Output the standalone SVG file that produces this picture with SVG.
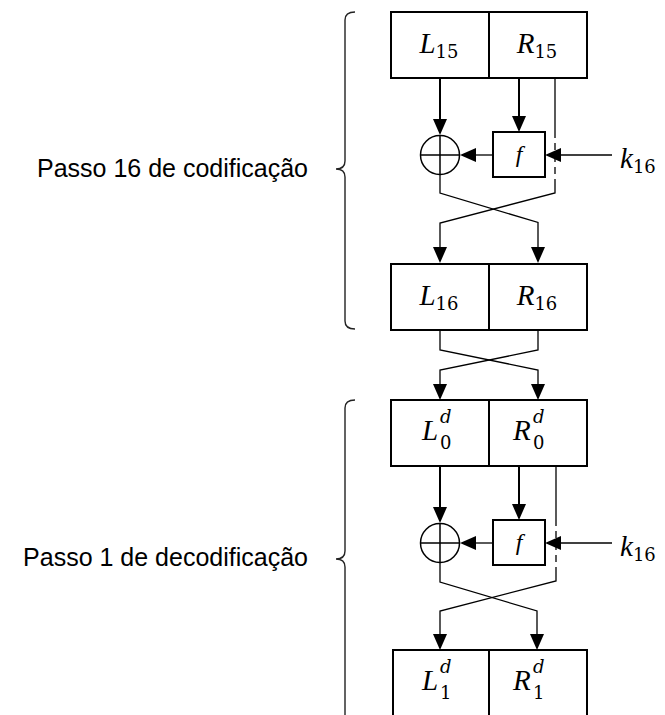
<svg xmlns="http://www.w3.org/2000/svg" width="665" height="715" viewBox="0 0 665 715">
<style>
.box{fill:#fff;stroke:#000;stroke-width:2}
.thick{fill:none;stroke:#000;stroke-width:2}
.thin{fill:none;stroke:#000;stroke-width:1.3}
.brace{fill:none;stroke:#222;stroke-width:1.4}
.lbl{font-family:"Liberation Sans",Arial,sans-serif;font-size:25px;fill:#000}
.m{font-family:"Liberation Serif","Times New Roman",serif;font-size:29px;font-style:italic;fill:#000}
.s{font-family:"DejaVu Serif","Liberation Serif",serif;font-size:18px;font-style:normal}
.si{font-family:"DejaVu Serif","Liberation Serif",serif;font-size:18px;font-style:italic}
.fl{font-family:"Liberation Serif","Times New Roman",serif;font-size:24px;font-style:italic;fill:#000}
</style>
<defs>
<marker id="ah" markerUnits="userSpaceOnUse" markerWidth="16" markerHeight="14" refX="14" refY="7" orient="auto">
<path d="M0,0 L16,7 L0,14 z" fill="#000"/>
</marker>
</defs>

<g id="bracket-enc">
<path class="brace" d="M355,12 Q345,12 345,20 L345,161 Q345,169 336,169 Q345,169 345,177 L345,321 Q345,329 355,329"/>
<text class="lbl" x="308" y="177" text-anchor="end">Passo 16 de codificação</text>
</g>
<g id="bracket-dec">
<path class="brace" d="M355,400 Q345,400 345,408 L345,551 Q345,559 336,559 Q345,559 345,567 L345,720"/>
<text class="lbl" x="308" y="566" text-anchor="end">Passo 1 de decodificação</text>
</g>

<g id="box-L15R15">
<rect class="box" x="391" y="12" width="98" height="66"/>
<rect class="box" x="489" y="12" width="98" height="66"/>
<text class="m" x="439" y="53" text-anchor="middle">L<tspan class="s" dy="5">15</tspan></text>
<text class="m" x="537" y="53" text-anchor="middle">R<tspan class="s" dy="5">15</tspan></text>
</g>
<g id="xor1">
<circle class="thin" cx="440" cy="155" r="19.5" style="stroke-width:1.5"/>
<path class="thin" style="stroke-width:1.5" d="M420.5,155 H459.5 M440,135.5 V174.5"/>
</g>
<g id="f1">
<rect class="box" x="493" y="132" width="52" height="45"/>
<text class="fl" x="519" y="162" text-anchor="middle">f</text>
</g>
<g id="k1">
<text class="m" x="620" y="168">k<tspan class="s" dy="5">16</tspan></text>
</g>
<g id="box-L16R16">
<rect class="box" x="391" y="264" width="98" height="66"/>
<rect class="box" x="489" y="264" width="98" height="66"/>
<text class="m" x="439" y="305" text-anchor="middle">L<tspan class="s" dy="5">16</tspan></text>
<text class="m" x="537" y="305" text-anchor="middle">R<tspan class="s" dy="5">16</tspan></text>
</g>

<g id="box-L0R0">
<rect class="box" x="391" y="400" width="98" height="66"/>
<rect class="box" x="489" y="400" width="98" height="66"/>
<text class="m" x="422" y="440">L</text>
<text class="si" x="440" y="423">d</text>
<text class="s" x="440" y="449">0</text>
<text class="m" x="513" y="440">R</text>
<text class="si" x="533" y="423">d</text>
<text class="s" x="533" y="449">0</text>
</g>
<g id="xor2">
<circle class="thin" cx="440" cy="543" r="19.5" style="stroke-width:1.5"/>
<path class="thin" style="stroke-width:1.5" d="M420.5,543 H459.5 M440,523.5 V562.5"/>
</g>
<g id="f2">
<rect class="box" x="493" y="520" width="52" height="45"/>
<text class="fl" x="519" y="550" text-anchor="middle">f</text>
</g>
<g id="k2">
<text class="m" x="620" y="556">k<tspan class="s" dy="5">16</tspan></text>
</g>
<g id="box-L1R1">
<rect class="box" x="393" y="650" width="96" height="70"/>
<rect class="box" x="489" y="650" width="98" height="70"/>
<text class="m" x="422" y="690">L</text>
<text class="si" x="440" y="673">d</text>
<text class="s" x="440" y="699">1</text>
<text class="m" x="513" y="690">R</text>
<text class="si" x="533" y="673">d</text>
<text class="s" x="533" y="699">1</text>
</g>

<g id="connectors">
<path class="thick" d="M440,78 V133" marker-end="url(#ah)"/>
<path class="thick" d="M519,78 V130" marker-end="url(#ah)"/>
<path class="thin" d="M493,155 H462" marker-end="url(#ah)"/>
<path class="thin" d="M612,155 H547" marker-end="url(#ah)"/>
<path class="thin" d="M555,78 V131"/>
<path class="thin" d="M555,131 V180" stroke-dasharray="7,5"/>
<path class="thin" d="M555,180 V193 L440,223 V261" marker-end="url(#ah)"/>
<path class="thin" d="M440,174.5 V193 L538,222.5 V261" marker-end="url(#ah)"/>
<path class="thin" d="M440,330 V350 L538,370 V398" marker-end="url(#ah)"/>
<path class="thin" d="M538,330 V350 L440,370 V398" marker-end="url(#ah)"/>
<path class="thick" d="M440,466 V521" marker-end="url(#ah)"/>
<path class="thick" d="M519,466 V518" marker-end="url(#ah)"/>
<path class="thin" d="M493,543 H462" marker-end="url(#ah)"/>
<path class="thin" d="M612,543 H547" marker-end="url(#ah)"/>
<path class="thin" d="M556,466 V519"/>
<path class="thin" d="M556,519 V568" stroke-dasharray="7,5"/>
<path class="thin" d="M556,568 V581 L440,611 V648" marker-end="url(#ah)"/>
<path class="thin" d="M440,562.5 V582 L537,611 V648" marker-end="url(#ah)"/>
</g>
</svg>
